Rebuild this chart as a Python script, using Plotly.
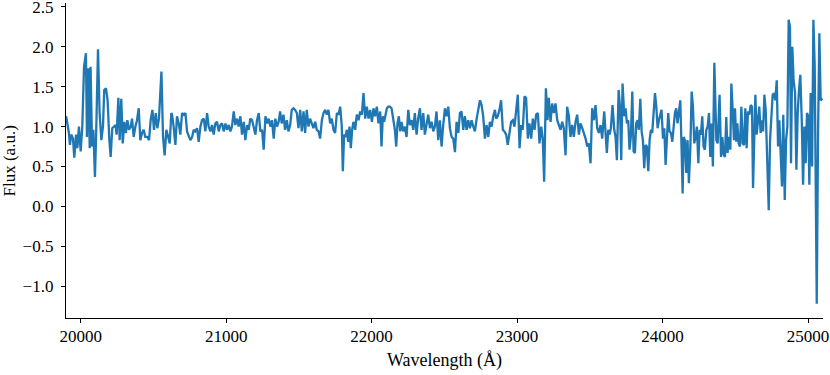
import plotly.graph_objects as go

# Wavelength (Angstrom) and flux (a.u.), in pieces
wl_1 = [19900,19919,19926,19935,19947,19956,19968,19977,19988,20000,20011,20023,20036,20043,20052,20062,20068,20078,20087,20098,20107,20119,20130,20142,20153,20162,20174,20185,20197,20206,20217,20229,20240,20247,20259,20268,20279,20289,20300,20311,20321,20332,20344,20353,20364,20376,20387,20399,20410,20422,20433,20444,20458,20470,20481,20493,20504,20516,20527,20538,20555,20566,20577,20589,20600,20612,20623]
fx_1 = [1.13,0.92,0.77,0.9,0.85,0.61,0.9,0.73,1.0,0.69,1.0,1.75,1.92,0.87,1.73,0.73,1.75,0.75,0.96,0.37,0.96,1.97,1.17,0.83,1.0,1.46,1.48,1.33,0.83,0.62,0.98,1.0,1.02,0.9,1.36,0.83,1.35,0.79,1.06,0.92,1.08,0.96,1.0,1.1,0.87,1.0,1.08,1.23,0.83,0.92,0.96,0.87,0.87,0.83,1.08,1.21,0.96,1.17,0.98,1.1,1.69,0.87,0.64,0.96,0.87,0.79,1.17]

wl_2 = [20628,20639,20651,20662,20674,20685,20697,20708,20720,20731,20743,20754,20766,20777,20788,20800,20811,20823,20834,20846,20857,20869,20880,20892,20903,20914,20926,20937,20949,20960,20972,20983,20995,21006,21018,21029,21040,21052,21063,21075,21086,21098,21109,21121,21132,21144,21155,21166,21178,21189,21201,21212,21224,21235,21247,21258,21270,21281,21292,21304,21315,21327,21338,21350,21361]
fx_2 = [1.15,1.0,0.77,1.13,1.04,0.9,1.17,1.15,1.17,0.94,0.87,0.83,0.87,0.96,0.94,0.98,0.81,1.0,1.08,1.1,0.94,1.17,1.0,0.94,1.02,0.9,1.04,1.06,0.94,1.02,1.04,0.94,1.04,0.96,1.02,0.94,1.0,1.19,1.02,1.1,1.0,1.13,0.9,1.06,0.83,1.02,0.96,1.1,1.08,1.0,0.9,1.08,1.17,0.94,0.96,0.71,1.13,1.04,1.1,1.0,1.08,0.85,1.1,1.0,1.06]

wl_3 = [21371,21382,21394,21405,21417,21428,21440,21451,21463,21474,21486,21497,21509,21520,21532,21543,21554,21566,21577,21589,21600,21612,21623,21635,21646,21658,21669,21681,21692,21703,21715,21726,21738,21749,21761,21772,21784,21795,21802,21811,21820,21830,21839,21848,21857,21866,21875,21887,21898,21910,21921,21933,21944,21956,21967,21979,21990,22002,22013,22024,22036,22047,22059,22068,22077,22086,22096,22105]
fx_3 = [1.19,1.04,1.15,0.96,1.08,0.94,1.02,1.21,1.23,1.21,1.17,0.98,1.21,0.94,1.19,0.92,1.21,1.0,1.1,1.04,0.98,1.06,0.96,0.94,0.85,1.08,1.17,1.21,1.15,1.21,1.04,1.1,0.96,0.92,1.17,1.15,1.25,1.0,0.44,0.9,0.87,0.96,0.81,1.0,0.73,0.96,1.06,0.96,1.15,1.08,1.19,1.15,1.42,1.1,1.25,1.1,1.21,1.06,1.23,1.13,1.25,1.04,1.19,0.75,1.13,1.06,1.15,1.23]

wl_4 = [22114,22125,22137,22148,22160,22169,22178,22187,22197,22206,22217,22229,22240,22252,22263,22275,22286,22297,22309,22320,22332,22343,22355,22366,22378,22389,22401,22412,22424,22435,22446,22458,22469,22481,22492,22504,22515,22527,22538,22550,22561,22573,22584,22596,22607,22618,22630,22641,22653,22664,22676,22687,22699,22710,22722,22733,22745,22756,22767,22779,22790,22802,22813,22825,22836,22848]
fx_4 = [1.25,1.25,1.23,1.1,0.96,0.75,1.04,1.13,0.94,1.06,0.94,1.0,0.87,1.21,1.02,1.08,0.96,1.17,0.9,1.1,1.23,0.96,1.17,0.9,1.06,1.15,0.98,1.06,0.94,1.0,1.19,0.83,1.08,0.75,1.02,1.23,1.13,1.25,0.98,0.87,0.85,0.68,1.06,0.92,1.17,1.19,0.96,1.13,0.96,1.08,0.98,1.08,1.0,0.94,1.1,1.23,1.33,1.27,1.13,0.85,1.02,0.87,1.06,1.0,1.13,1.21]

wl_5 = [22856,22867,22879,22890,22902,22913,22925,22936,22948,22959,22971,22982,22994,23005,23017,23028,23039,23051,23062,23074,23085,23097,23108,23120,23131,23143,23154,23166,23177,23186,23198,23209,23218,23230,23241,23253,23264,23276,23287,23299,23310,23321,23333,23344,23356,23367,23379,23390,23402,23413,23425,23436,23448,23459,23471,23482,23493,23505,23516,23528,23539,23551,23562,23574,23585]
fx_5 = [1.1,1.13,1.21,1.33,0.96,0.94,0.9,0.77,0.94,1.06,1.08,1.0,1.21,1.4,0.73,1.02,0.96,1.38,1.36,0.85,1.04,0.85,1.1,0.96,1.15,1.17,0.79,1.0,0.83,0.31,1.48,1.08,1.36,1.06,1.29,1.17,1.29,1.08,1.02,0.96,1.06,0.98,0.64,1.25,1.13,0.87,1.02,0.87,1.06,1.15,0.9,1.04,0.98,0.92,0.85,0.75,0.79,0.54,1.23,1.08,1.27,0.98,0.92,1.02,0.85]

wl_6 = [23599,23608,23617,23627,23636,23645,23656,23668,23677,23686,23698,23707,23716,23725,23737,23746,23755,23764,23773,23782,23792,23801,23810,23819,23828,23837,23847,23856,23865,23874,23883,23892,23902,23911,23920,23929,23938,23948,23957,23966,23975,23984,23993,24003,24012,24021,24030,24039,24048,24058,24067,24076,24085,24094,24103,24113,24122,24131,24138,24145,24154,24163,24172,24181,24191,24200,24209,24218,24227,24236,24246,24255,24264,24273,24282,24291,24301,24310,24319,24328,24337,24346,24356]
fx_6 = [1.19,0.87,0.67,0.96,0.9,0.98,1.27,0.96,0.87,0.58,1.46,1.25,0.58,1.54,1.13,1.23,1.04,1.08,0.71,0.87,1.44,0.69,0.67,1.04,1.08,0.96,1.35,0.94,0.83,0.48,0.77,0.75,0.44,0.83,0.96,0.92,1.21,1.42,1.25,0.98,1.08,1.17,1.21,0.85,0.98,0.52,0.9,1.17,0.94,0.92,0.81,1.04,1.17,1.23,1.04,1.19,1.33,0.71,0.16,0.87,0.83,0.42,0.83,0.29,0.73,1.44,1.25,0.79,0.87,1.0,0.54,0.96,0.9,1.13,0.75,0.71,0.96,1.0,1.17,0.62,1.04,0.5,1.8]

wl_7 = [24370,24379,24392,24402,24411,24420,24429,24438,24447,24457,24466,24473,24482,24491,24498,24507,24514,24523,24532,24542,24551,24560,24569,24578,24587,24597,24606,24615,24622,24631,24638,24647,24656,24665,24674,24684,24691,24700,24709,24718,24730,24739,24748,24757,24766,24775,24785,24794,24803,24812,24821,24830,24840,24849,24858,24867,24876,24883,24892,24901,24911,24920,24929,24938,24947,24957,24966,24975,24984,24993,25002,25009,25018,25028,25037,25046,25053,25060,25069,25078,25087,25100]
fx_7 = [0.83,0.79,1.4,0.62,0.87,0.65,0.62,1.12,0.67,0.87,0.71,1.54,1.21,0.83,1.23,0.81,1.04,0.79,0.75,1.25,0.79,0.77,1.23,0.73,1.19,1.15,1.27,1.25,0.23,1.17,1.4,0.9,1.06,1.25,0.92,1.08,0.94,1.4,1.21,0.5,-0.05,0.83,1.08,1.4,1.42,1.33,1.58,0.75,1.08,0.73,0.25,1.15,0.08,0.83,1.0,2.34,2.25,0.54,2.0,1.58,1.42,0.46,1.17,1.46,1.65,1.08,0.27,1.0,0.54,1.17,1.13,0.27,1.42,0.5,2.34,1.75,0.5,-1.22,0.92,2.17,1.33,1.35]

wavelength = wl_1 + wl_2 + wl_3 + wl_4 + wl_5 + wl_6 + wl_7
flux = fx_1 + fx_2 + fx_3 + fx_4 + fx_5 + fx_6 + fx_7
assert len(wavelength) == len(flux), (len(wavelength), len(flux))

x_ticks = [20000, 21000, 22000, 23000, 24000, 25000]
y_ticks = [-1.0, -0.5, 0.0, 0.5, 1.0, 1.5, 2.0, 2.5]

FONT = "Liberation Serif"

fig = go.Figure()
fig.add_trace(go.Scatter(x=wavelength, y=flux, mode="lines",
                         line=dict(color="#1f77b4", width=2.3), showlegend=False))

axis_common = dict(
    showgrid=False, zeroline=False, showline=True, linecolor="black", linewidth=1.3,
    ticks="outside", ticklen=4, tickwidth=1.3, tickcolor="black",
    automargin=False, ticklabeloverflow="allow",
    tickfont=dict(family=FONT, size=17, color="black"),
)

fig.update_layout(
    width=830, height=375,
    margin=dict(l=66, r=7, t=3, b=57),
    paper_bgcolor="white", plot_bgcolor="white",
    font=dict(family=FONT, size=17, color="black"),
    annotations=[
        dict(text="Wavelength (Å)", xref="paper", yref="paper", x=0.5, y=-0.135,
             xanchor="center", yanchor="middle", showarrow=False,
             font=dict(family=FONT, size=18, color="black")),
        dict(text="Flux (a.u.)", xref="paper", yref="paper", x=-0.074, y=0.5,
             xanchor="center", yanchor="middle", textangle=-90, showarrow=False,
             font=dict(family=FONT, size=17, color="black")),
    ],
)
fig.update_xaxes(range=[19899, 25103], tickvals=x_ticks,
                 ticktext=[str(v) for v in x_ticks], ticklabelstandoff=-2, **axis_common)
fig.update_yaxes(range=[-1.40, 2.55], tickvals=y_ticks, tickformat=".1f",
                 ticklabelstandoff=4, **axis_common)

fig.write_html(
    "out.html",
    config={"displayModeBar": False},
    post_script="document.body.style.margin='0px';document.body.style.overflow='hidden';",
)
